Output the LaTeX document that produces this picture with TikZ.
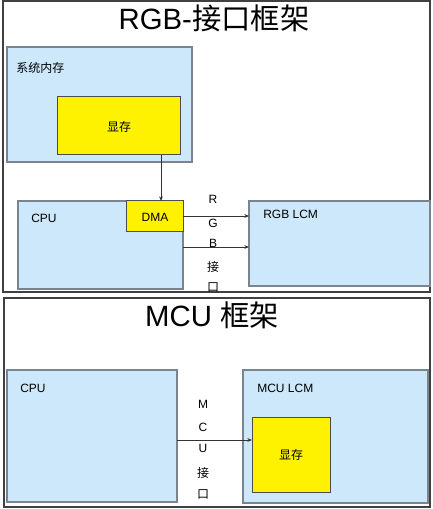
\documentclass[tikz,border=0pt]{standalone}
\usepackage{fontspec}
\setmainfont{Liberation Sans}
\newfontfamily\cjk{Noto Sans CJK SC}
\usetikzlibrary{fit,arrows.meta}
\definecolor{boxblue}{HTML}{CCE8FA}
\definecolor{boxline}{HTML}{7A8490}
\definecolor{frameline}{HTML}{404040}
\tikzset{
  frame/.style={draw=frameline, line width=0.9pt, inner sep=0pt},
  bluebox/.style={draw=boxline, fill=boxblue, line width=0.9pt, inner sep=0pt},
  yellowbox/.style={draw=black!70, fill=yellow, line width=0.75pt, inner sep=0pt},
  lbl/.style={font=\fontsize{9}{10}\selectfont, inner sep=0pt},
  title/.style={font=\fontsize{22}{24}\selectfont, inner sep=0pt},
  conn/.style={draw=black!80, line width=0.6pt, -{Stealth[length=3.5pt,width=2.8pt]}},
}
\begin{document}
\begin{tikzpicture}[x=0.75pt, y=-0.75pt]
\useasboundingbox (0,0) rectangle (432,509);
% ---------- top panel ----------
\node[frame, fit={(3,1)(430,292)}] (topframe) {};
\node[title] (ttop) at (214,18) {RGB-{\cjk 接口框架}};
\node[bluebox, fit={(7,47)(192,162)}] (sysmem) {};
\node[lbl, anchor=west] (sysmemlbl) at (16,68) {\cjk 系统内存};
\node[yellowbox, fit={(57,97)(180,155)}] (vram) {};
\node[lbl] (vramlbl) at (119,127) {\cjk 显存};
\node[bluebox, fit={(18,201)(183,289)}] (cpu) {};
\node[lbl, anchor=west] (cpulbl) at (31,218) {CPU};
\node[yellowbox, fit={(126,201)(183,232)}] (dma) {};
\node[lbl] (dmalbl) at (155,217) {DMA};
\node[bluebox, fit={(249,201)(430,286)}] (rgblcm) {};
\node[lbl, anchor=west] (rgblcmlbl) at (263,214) {RGB LCM};
\coordinate (vramout) at (161,155);
\coordinate (dmain) at (161,201);
\draw[conn] (vramout) -- (dmain);
\coordinate (a1s) at (183,216);
\coordinate (a1e) at (249,216);
\coordinate (a2s) at (183,247);
\coordinate (a2e) at (249,247);
\draw[conn] (a1s) -- (a1e);
\draw[conn] (a2s) -- (a2e);
\node[lbl] (lr) at (213,199) {R};
\node[lbl] (lg) at (213,223) {G};
\node[lbl] (lb) at (213,243) {B};
\node[lbl] (ljie) at (213,267) {\cjk 接};
\node[lbl] (lkou) at (213,287) {\cjk 口};
% ---------- bottom panel ----------
\node[frame, fit={(4,298)(430,507)}] (botframe) {};
\node[title] (tbot) at (212,315) {MCU {\cjk 框架}};
\node[bluebox, fit={(7,370)(177,502)}] (cpu2) {};
\node[lbl, anchor=west] (cpu2lbl) at (20,388) {CPU};
\node[bluebox, fit={(243,370)(428,503)}] (mculcm) {};
\node[lbl, anchor=west] (mculcmlbl) at (257,388) {MCU LCM};
\node[yellowbox, fit={(252,417)(330,492)}] (vram2) {};
\node[lbl] (vram2lbl) at (291,455) {\cjk 显存};
\coordinate (b1s) at (177,440);
\coordinate (b1e) at (252,440);
\draw[conn] (b1s) -- (b1e);
\node[lbl] (lm) at (203,404) {M};
\node[lbl] (lc) at (203,427) {C};
\node[lbl] (lu) at (203,448) {U};
\node[lbl] (ljie2) at (203,473) {\cjk 接};
\node[lbl] (lkou2) at (203,494) {\cjk 口};
\end{tikzpicture}
\end{document}
